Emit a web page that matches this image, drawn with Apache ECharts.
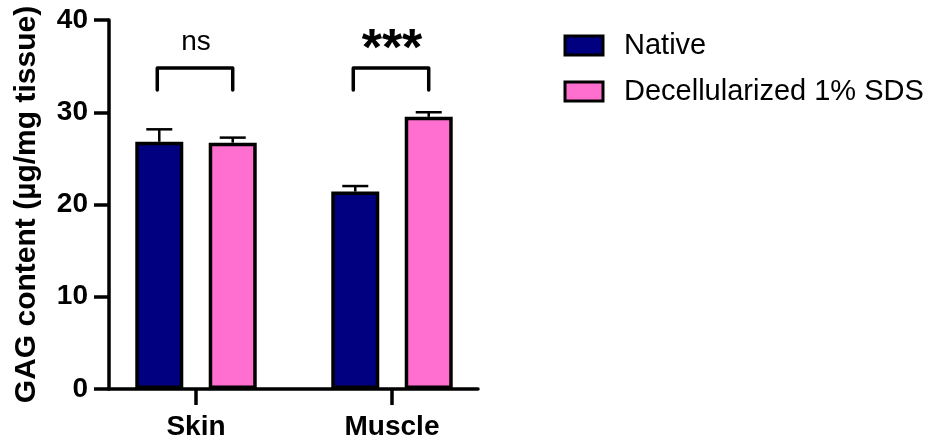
<!DOCTYPE html>
<html>
<head>
<meta charset="utf-8">
<script src="https://cdn.jsdelivr.net/npm/echarts@6/dist/echarts.min.js"></script>
<style>
  html, body { margin: 0; padding: 0; background: #fff; }
  #chart { width: 934px; height: 440px; }
</style>
</head>
<body>
<div id="chart"></div>
<script>
// GAG content per tissue, native vs decellularized (mean and upper error)
const categories = ['Skin', 'Muscle'];
const seriesNames = ['Native', 'Decellularized 1% SDS'];
const nativeMean = [26.8, 21.4];
const nativeErr = [1.35, 0.6];
const decelMean = [26.7, 29.5];
const decelErr = [0.55, 0.5];
const yTicks = [0, 10, 20, 30, 40];
// significance brackets between the two bars of each tissue
const sigLabels = ['ns', '***'];
const bracketTop = [34.8, 34.8];
const bracketFoot = [32.4, 32.4];
const sigLabelY = [37.6, 37.6];

const FONT = 'Arial, "Liberation Sans", Helvetica, sans-serif';
const NAVY = '#000080';
const PINK = '#FF6FCF';
const LINE_W = 3.5;
const BAR_W = 48;
const BAR_GAP = 0.53;
const TICK_LEN = 16;
const HALF_SPAN = (BAR_W * 2 + BAR_W * BAR_GAP) / 2 - BAR_W / 2; // bar centre offset from category centre

function errorData(mean, err) {
  return mean.map((m, i) => [i, m, m + err[i]]);
}

function errorSeries(name, mean, err, sign) {
  return {
    type: 'custom',
    name: name,
    xAxisIndex: 0,
    yAxisIndex: 0,
    z: 1,
    silent: true,
    data: errorData(mean, err),
    renderItem: function (params, api) {
      const base = api.coord([api.value(0), api.value(1)]);
      const top = api.coord([api.value(0), api.value(2)]);
      const x = base[0] + sign * HALF_SPAN;
      const capHalf = 13;
      return {
        type: 'group',
        children: [
          { type: 'line', shape: { x1: x, y1: base[1], x2: x, y2: top[1] },
            style: { stroke: '#000', lineWidth: 2.5 } },
          { type: 'line', shape: { x1: x - capHalf, y1: top[1], x2: x + capHalf, y2: top[1] },
            style: { stroke: '#000', lineWidth: 2.5 } }
        ]
      };
    }
  };
}

const bracketData = categories.map((c, i) => [i, bracketTop[i], bracketFoot[i], sigLabelY[i]]);
const tickData = categories.map((c, i) => [i, yTicks[0]]);

const chart = echarts.init(document.getElementById('chart'), null, { renderer: 'canvas' });
chart.setOption({
  animation: false,
  textStyle: { fontFamily: FONT },
  legend: {
    orient: 'vertical',
    left: 563.5,
    top: 31,
    padding: 0,
    itemWidth: 38,
    itemHeight: 19,
    itemGap: 17,
    icon: 'rect',
    data: seriesNames,
    itemStyle: { borderWidth: 3 },
    textStyle: { fontFamily: FONT, fontSize: 29, color: '#000', lineHeight: 28, padding: [0, 0, 0, 16] }
  },
  grid: [
    { left: 98, top: 20, width: 392, height: 369, outerBoundsMode: 'none' },
    { left: 109, top: 20, width: 369, height: 369, outerBoundsMode: 'none' }
  ],
  xAxis: [
    {
      type: 'category',
      gridIndex: 0,
      data: categories,
      boundaryGap: true,
      // the visible baseline is drawn by the second grid's axis
      axisLine: { show: false },
      axisTick: { show: false },
      axisLabel: { color: '#000', fontFamily: FONT, fontWeight: 'bold', fontSize: 28, margin: 24 },
      splitLine: { show: false }
    },
    {
      type: 'value',
      gridIndex: 1,
      min: 0,
      max: 1,
      axisLine: { show: true, lineStyle: { color: '#000', width: LINE_W } },
      axisTick: { show: false },
      axisLabel: { show: false },
      splitLine: { show: false }
    }
  ],
  yAxis: [
    {
      type: 'value',
      gridIndex: 0,
      min: 0,
      max: 40,
      interval: 10,
      show: false
    },
    {
      type: 'value',
      gridIndex: 1,
      min: yTicks[0],
      max: yTicks[yTicks.length - 1],
      interval: 10,
      name: 'GAG content (µg/mg tissue)',
      nameLocation: 'middle',
      nameGap: 67,
      nameTextStyle: { color: '#000', fontFamily: FONT, fontWeight: 'bold', fontSize: 30 },
      axisLine: { show: true, lineStyle: { color: '#000', width: LINE_W } },
      axisTick: { show: true, length: 15, lineStyle: { color: '#000', width: LINE_W } },
      axisLabel: { color: '#000', fontFamily: FONT, fontWeight: 'bold', fontSize: 28, margin: 21 },
      splitLine: { show: false }
    }
  ],
  series: [
    {
      type: 'bar',
      name: seriesNames[0],
      xAxisIndex: 0,
      yAxisIndex: 0,
      barWidth: BAR_W,
      barGap: (BAR_GAP * 100).toFixed(1) + '%',
      data: nativeMean,
      z: 2,
      itemStyle: { color: NAVY, borderColor: '#000', borderWidth: LINE_W }
    },
    {
      type: 'bar',
      name: seriesNames[1],
      xAxisIndex: 0,
      yAxisIndex: 0,
      barWidth: BAR_W,
      barGap: (BAR_GAP * 100).toFixed(1) + '%',
      data: decelMean,
      z: 2,
      itemStyle: { color: PINK, borderColor: '#000', borderWidth: LINE_W }
    },
    errorSeries('nativeErr', nativeMean, nativeErr, -1),
    errorSeries('decelErr', decelMean, decelErr, 1),
    {
      // category tick marks under the baseline, one per tissue
      type: 'custom',
      name: 'categoryTicks',
      xAxisIndex: 0,
      yAxisIndex: 0,
      silent: true,
      clip: false,
      zlevel: 1,
      z: 10,
      data: tickData,
      renderItem: function (params, api) {
        const p = api.coord([api.value(0), api.value(1)]);
        return {
          type: 'rect',
          shape: { x: p[0] - LINE_W / 2, y: p[1], width: LINE_W, height: TICK_LEN },
          style: { fill: '#000' }
        };
      }
    },
    {
      type: 'custom',
      name: 'significance',
      xAxisIndex: 0,
      yAxisIndex: 0,
      silent: true,
      z: 3,
      data: bracketData,
      renderItem: function (params, api) {
        const i = params.dataIndex;
        const c = api.coord([api.value(0), api.value(1)]);
        const foot = api.coord([api.value(0), api.value(2)]);
        const lab = api.coord([api.value(0), api.value(3)]);
        const x1 = c[0] - HALF_SPAN - 2;
        const x2 = c[0] + HALF_SPAN;
        const label = sigLabels[i];
        const isStars = label.indexOf('*') >= 0;
        return {
          type: 'group',
          children: [
            { type: 'polyline',
              shape: { points: [[x1, foot[1]], [x1, c[1]], [x2, c[1]], [x2, foot[1]]] },
              style: { stroke: '#000', lineWidth: LINE_W, fill: null, lineJoin: 'round', lineCap: 'round' } },
            { type: 'text',
              x: c[0], y: lab[1] + (isStars ? 9 : 0),
              style: {
                text: label,
                fill: '#000',
                font: (isStars ? 'bold 52px ' : '28px ') + FONT,
                align: 'center',
                verticalAlign: 'middle'
              } }
          ]
        };
      }
    }
  ]
});
</script>
</body>
</html>
